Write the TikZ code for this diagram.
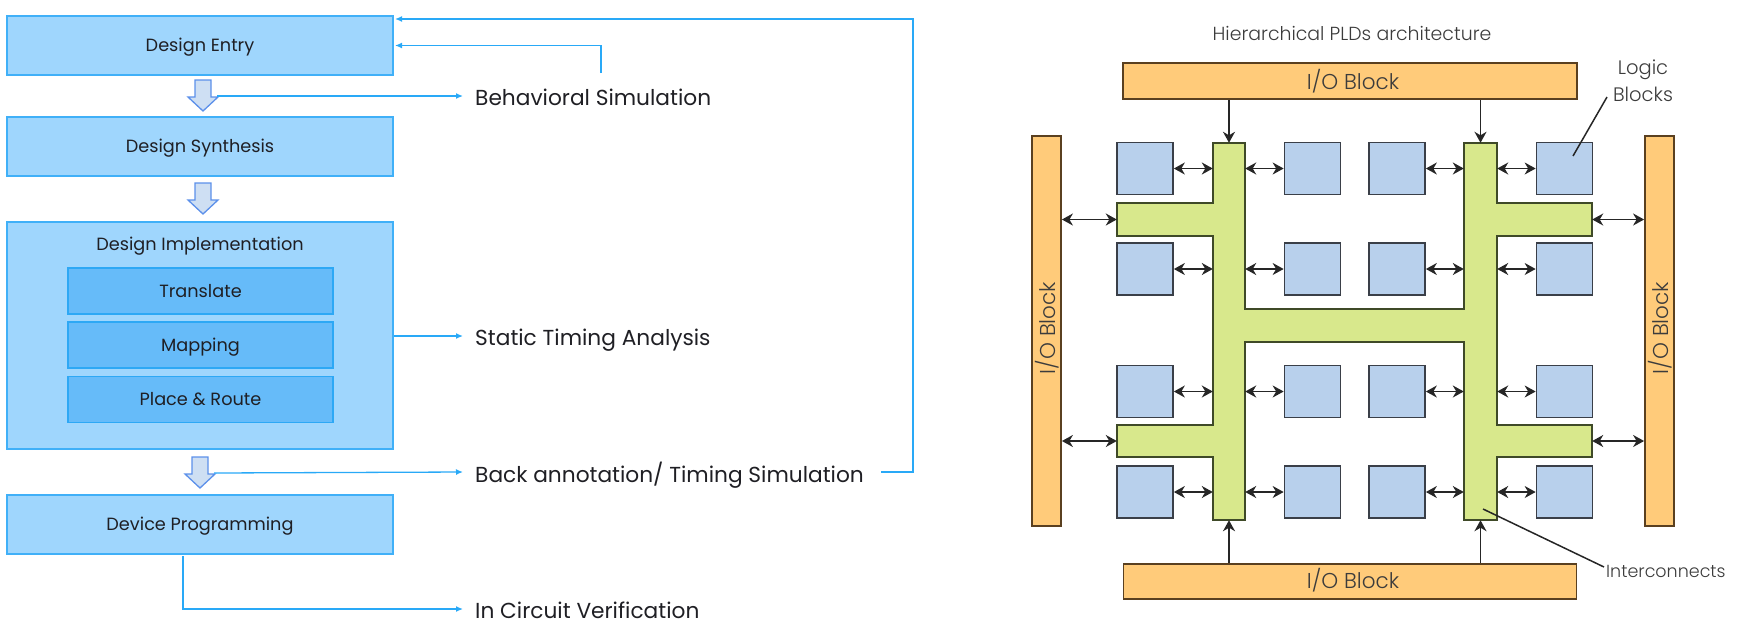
\documentclass[tikz,border=0pt]{standalone}
\usepackage{fontspec}
\usetikzlibrary{arrows.meta}
\setmainfont{Poppins}
\newfontfamily\figfont{Poppins Light}
\definecolor{stepfill}{HTML}{9FD6FD}
\definecolor{stepedge}{HTML}{40B0F8}
\definecolor{innerfill}{HTML}{66BBF9}
\definecolor{inneredge}{HTML}{2DA8F5}
\definecolor{wire}{HTML}{29A9F7}
\definecolor{arrowfill}{HTML}{CEDFF3}
\definecolor{arrowedge}{HTML}{5C90EA}
\definecolor{inktext}{HTML}{1F1F24}
\definecolor{iofill}{HTML}{FFCB7A}
\definecolor{ioedge}{HTML}{5A4020}
\definecolor{logicfill}{HTML}{B8D0EC}
\definecolor{logicedge}{HTML}{3A3F48}
\definecolor{netfill}{HTML}{D8E88C}
\definecolor{netedge}{HTML}{3F4A28}
\definecolor{figtext}{HTML}{3C3C3C}
\tikzset{
  x=1pt,y=-1pt,
  steptext/.style={text=inktext,font=\fontsize{17.7}{20}\selectfont,text height=14.3pt,text depth=2pt},
  stepbox/.style={steptext,draw=stepedge,fill=stepfill,line width=1.4pt,inner sep=0pt,minimum width=386pt},
  innerbox/.style={steptext,draw=inneredge,fill=innerfill,line width=1.4pt,inner sep=0pt,minimum width=265pt,minimum height=46pt},
  resultlabel/.style={anchor=base west,inner sep=0pt,text=inktext,font=\fontsize{21.7}{24}\selectfont},
  wireline/.style={draw=wire,line width=1.3pt,-{Latex[length=7pt,width=6pt]}},
  pics/downarrow/.style={code={
    \draw[fill=arrowfill,draw=arrowedge,line width=1.3pt,line join=miter]
      (-8,0)--(8,0)--(8,17)--(15,17)--(0,31)--(-15,17)--(-8,17)--cycle;
    \coordinate (-tap) at (14,16);}},
  iobox/.style={draw=ioedge,fill=iofill,line width=1.8pt,inner sep=0pt,text=figtext,font=\figfont\fontsize{21.5}{24}\selectfont},
  logicbox/.style={draw=logicedge,fill=logicfill,line width=1.7pt,inner sep=0pt,minimum width=56pt,minimum height=52pt},
  netpart/.style={inner sep=0pt},
  figlabel/.style={inner sep=0pt,text=figtext,font=\figfont\fontsize{17.5}{25}\selectfont,align=center},
  duplex/.style={draw=black!85,line width=1.7pt,{Stealth[length=11pt,width=12pt,inset=3.5pt]}-{Stealth[length=11pt,width=12pt,inset=3.5pt]}},
  simplex/.style={draw=black!85,line width=1.7pt,-{Stealth[length=11pt,width=12pt,inset=3.5pt]}},
  leader/.style={draw=black!85,line width=1.5pt}
}
\begin{document}
\begin{tikzpicture}
\useasboundingbox (0,0) rectangle (1743,633);
% left flow
\node[stepbox,minimum height=59pt] (entry) at (200,45.5) {Design Entry};
\node[stepbox,minimum height=59pt] (synth) at (200,146.5) {Design Synthesis};
\node[stepbox,minimum height=227pt] (impl) at (200,335.5) {};
\node[steptext,inner sep=0pt] (impltitle) at (200,244) {Design Implementation};
\node[innerbox] (translate) at (200.5,291) {Translate};
\node[innerbox] (mapping) at (200.5,345) {Mapping};
\node[innerbox] (place) at (200.5,399.5) {Place \& Route};
\node[stepbox,minimum height=59pt] (device) at (200,524.5) {Device Programming};
\pic (a1) at (203,80) {downarrow};
\pic (a2) at (203,183) {downarrow};
\pic (a3) at (200,457) {downarrow};
\node[resultlabel] (beh) at (475,105) {Behavioral Simulation};
\node[resultlabel] (sta) at (475,345) {Static Timing Analysis};
\node[resultlabel] (back) at (475,482) {Back annotation/ Timing Simulation};
\node[resultlabel] (icv) at (475,618) {In Circuit Verification};
\coordinate (behin) at (463,96);
\coordinate (stain) at (463,336);
\coordinate (backin) at (463,472);
\coordinate (icvin) at (463,609);
\coordinate (icvout) at (183,556);
\coordinate (behout) at (601,73);
\coordinate (backout) at (881,472);
\coordinate (entrytop) at (395,19);
\coordinate (entrymid) at (395,45.5);
\draw[wireline] (a1-tap) -- (behin);
\draw[wireline] (impl.east |- stain) -- (stain);
\draw[wireline] (a3-tap) -- (backin);
\draw[wireline] (icvout) |- (icvin);
\draw[wireline] (behout) |- (entrymid);
\draw[wireline] (backout) -| (913,19) -- (entrytop);
% right figure
\node[inner sep=0pt,text=figtext,font=\figfont\fontsize{18.9}{22}\selectfont] (title) at (1352,33) {Hierarchical PLDs architecture};
\node[iobox,minimum width=454pt,minimum height=36pt,text height=16pt,text depth=0pt] (iot) at (1350,81) {\hspace*{6pt}I/O Block};
\node[iobox,minimum width=453pt,minimum height=35pt,text height=15pt,text depth=2pt] (iob) at (1350,581.5) {\hspace*{6pt}I/O Block};
\node[iobox,minimum width=29pt,minimum height=390pt] (iol) at (1046.5,331) {};
\node[iobox,minimum width=29pt,minimum height=390pt] (ior) at (1659.5,331) {};
\node[inner sep=0pt,rotate=90,text=figtext,font=\figfont\fontsize{21.5}{24}\selectfont] (iolt) at (1047,328) {I/O Block};
\node[inner sep=0pt,rotate=90,text=figtext,font=\figfont\fontsize{21.5}{24}\selectfont] (iort) at (1660,328) {I/O Block};
% interconnect outline
\draw[draw=netedge,fill=netfill,line width=1.8pt,line join=miter]
  (1213,143)--(1245,143)--(1245,309)--(1464,309)--(1464,143)--(1497,143)--(1497,203)--(1592,203)--(1592,236)--(1497,236)
  --(1497,425)--(1592,425)--(1592,457)--(1497,457)--(1497,520)--(1464,520)--(1464,342)--(1245,342)--(1245,520)--(1213,520)
  --(1213,457)--(1117,457)--(1117,425)--(1213,425)--(1213,236)--(1117,236)--(1117,203)--(1213,203)--cycle;
\node[netpart,minimum width=32pt,minimum height=377pt] (vl) at (1229,331.5) {};
\node[netpart,minimum width=33pt,minimum height=377pt] (vr) at (1480.5,331.5) {};
\node[netpart,minimum width=475pt,minimum height=33pt] (armt) at (1354.5,219.5) {};
\node[netpart,minimum width=475pt,minimum height=32pt] (armb) at (1354.5,441) {};
% logic blocks
\foreach \r/\yy in {1/168.5,2/269,3/391.5,4/492}{
  \node[logicbox] (b1\r) at (1145,\yy) {};
  \node[logicbox] (b2\r) at (1312.5,\yy) {};
  \node[logicbox] (b3\r) at (1397,\yy) {};
  \node[logicbox] (b4\r) at (1564.5,\yy) {};
  \draw[duplex] (b1\r.east) -- (b1\r.east -| vl.west);
  \draw[duplex] (vl.east |- b2\r.west) -- (b2\r.west);
  \draw[duplex] (b3\r.east) -- (b3\r.east -| vr.west);
  \draw[duplex] (vr.east |- b4\r.west) -- (b4\r.west);
}
\draw[simplex] (iot.south -| vl.north) -- (vl.north);
\draw[simplex] (iot.south -| vr.north) -- (vr.north);
\draw[simplex] (iob.north -| vl.south) -- (vl.south);
\draw[simplex] (iob.north -| vr.south) -- (vr.south);
\draw[duplex] (iol.east |- armt.west) -- (armt.west);
\draw[duplex] (armt.east) -- (armt.east -| ior.west);
\draw[duplex] (iol.east |- armb.west) -- (armb.west);
\draw[duplex] (armb.east) -- (armb.east -| ior.west);
% callouts
\node[figlabel,font=\figfont\fontsize{19.5}{27}\selectfont] (logiclbl) at (1643,81) {Logic\\Blocks};
\coordinate (logicend) at (1607,97);
\coordinate (logictip) at (1573,156);
\draw[leader] (logicend) -- (logictip);
\node[figlabel,anchor=west] (netlbl) at (1606,571) {Interconnects};
\coordinate (nettip) at (1483,509);
\draw[leader] (netlbl.west) ++(-2,-4) -- (nettip);
\end{tikzpicture}
\end{document}
